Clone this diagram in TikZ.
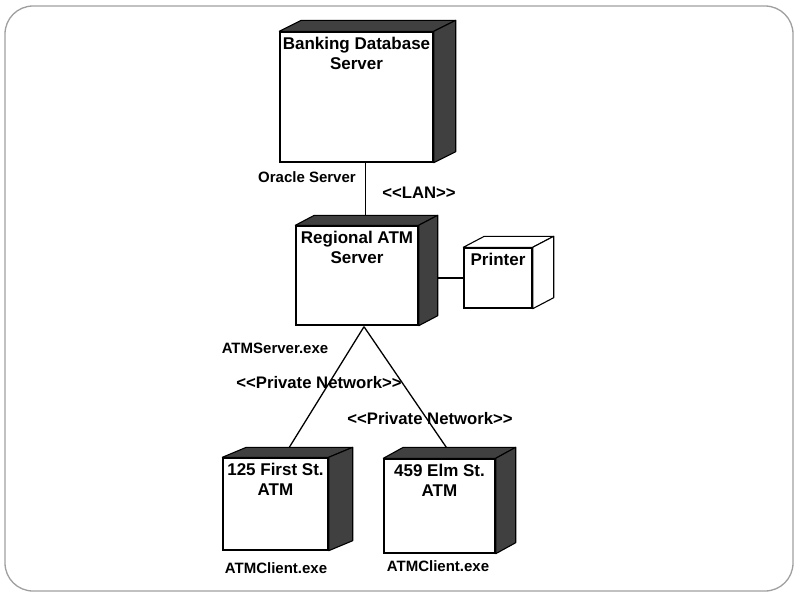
\documentclass[tikz,border=0pt]{standalone}
\usepackage{fontspec}
\setmainfont{Liberation Sans}
\usetikzlibrary{calc}
\tikzset{
  frontface/.style={draw, line width=1.4pt, fill=white, inner sep=0pt},
  sideface/.style={draw, line width=1.1pt, line join=round},
  title/.style={font=\fontsize{17}{19.5}\selectfont\bfseries, align=center, inner sep=1pt},
  lbl/.style={font=\fontsize{15}{18}\selectfont\bfseries, inner sep=1pt},
  biglbl/.style={font=\fontsize{16.7}{19}\selectfont\bfseries, inner sep=1pt},
  wire/.style={line width=1.3pt},
  frame/.style={draw=gray!75, line width=1.3pt, rounded corners=28pt}
}
% name, cx, cy, width, height, dx, dy, side fill, title
\newcommand\mycube[9]{%
  \node[frontface, minimum width=#4pt, minimum height=#5pt] (#1) at (#2,#3) {};
  \coordinate (#1-bnw) at ($(#1.north west)+(#6,#7)$);
  \coordinate (#1-bne) at ($(#1.north east)+(#6,#7)$);
  \coordinate (#1-bse) at ($(#1.south east)+(#6,#7)$);
  \filldraw[sideface, fill=#8] (#1.north west) -- (#1-bnw) -- (#1-bne) -- (#1.north east) -- cycle;
  \filldraw[sideface, fill=#8] (#1.north east) -- (#1-bne) -- (#1-bse) -- (#1.south east) -- cycle;
  \node[title, anchor=north] (#1-title) at ($(#1.north)+(0,5)$) {#9};
}
\begin{document}
\begin{tikzpicture}[x=1pt, y=-1pt]
\useasboundingbox (0,0) rectangle (800,600);
\draw[frame] (5,6) rectangle (793,591);

\mycube{bank}{356.5}{97}{153}{130}{22}{-11}{black!75}{Banking Database\\Server}
\mycube{reg}{357}{275.5}{122}{99}{19}{-10}{black!75}{Regional ATM\\Server}
\mycube{printer}{498}{278}{68}{60}{21}{-11}{white}{Printer}
\mycube{atmA}{275.5}{504}{105}{92}{24}{-10}{black!75}{125 First St.\\ATM}
\mycube{atmB}{439.5}{506}{111}{94}{20}{-11}{black!75}{459 Elm St.\\ATM}

\coordinate (bankP) at ($(bank.south west)+(86,0)$);
\draw[wire] (bankP) -- (bankP |- reg-bnw);
\draw[wire] (printer.west) -- (printer.west -| reg-bne);
\coordinate (regB) at ($(reg.south)+(7,1)$);
\draw[wire] (regB) -- ($(atmA-bnw)+(43,0)$);
\draw[wire] (regB) -- ($(atmB-bnw)+(43,0)$);

\node[lbl] (oracle) at (307,177) {Oracle Server};
\node[biglbl] (lan) at (419,193) {<{}<LAN>{}>};
\node[lbl] (atmserver) at (275,348) {ATMServer.exe};
\node[biglbl] (pn1) at (319,383) {<{}<Private Network>{}>};
\node[biglbl] (pn2) at (430,419) {<{}<Private Network>{}>};
\node[lbl] (clientA) at (276,568) {ATMClient.exe};
\node[lbl] (clientB) at (438,566) {ATMClient.exe};
\end{tikzpicture}
\end{document}
